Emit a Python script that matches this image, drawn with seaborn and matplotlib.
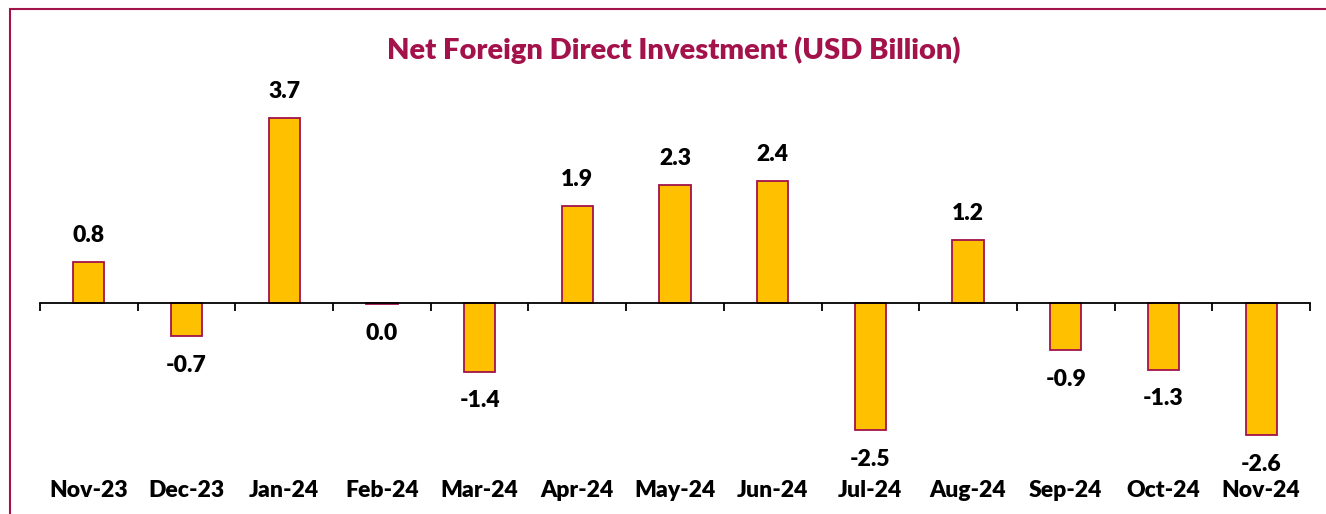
import matplotlib
matplotlib.use("Agg")
import matplotlib.pyplot as plt
import matplotlib.transforms as mtransforms
from matplotlib.patches import Rectangle
import seaborn as sns
import pandas as pd

# Monthly net FDI, USD billion
months = ["Nov-23", "Dec-23", "Jan-24", "Feb-24", "Mar-24", "Apr-24", "May-24",
          "Jun-24", "Jul-24", "Aug-24", "Sep-24", "Oct-24", "Nov-24"]
net_fdi = [0.81, -0.66, 3.66, -0.02, -1.36, 1.92, 2.34, 2.41, -2.51, 1.24, -0.93, -1.32, -2.61]

MAROON = "#A3124B"
GOLD = "#FFC000"

sns.set_style("white")
plt.rcParams["font.family"] = ["Lato", "DejaVu Sans"]
WEIGHT = "heavy"

fig = plt.figure(figsize=(13.26, 5.14), dpi=100)
ax = fig.add_axes([40 / 1326, 0.1152, 1270 / 1326, 0.7383])

df = pd.DataFrame({"month": months, "value": net_fdi})
sns.barplot(data=df, x="month", y="value", color=GOLD, saturation=1,
            width=0.32, edgecolor=MAROON, linewidth=1.3, ax=ax)

ax.set_ylim(-3.0, 4.5)
ax.set_xlim(-0.5, len(months) - 0.5)

# axis line at zero with ticks between categories
for side in ("top", "right", "left"):
    ax.spines[side].set_visible(False)
ax.spines["bottom"].set_position(("data", 0))
ax.spines["bottom"].set_color("black")
ax.spines["bottom"].set_linewidth(1.3)
ax.set_yticks([])
ax.set_xticks([i - 0.5 for i in range(len(months) + 1)])
ax.set_xticklabels([])
ax.tick_params(axis="x", direction="out", length=6, width=1.3, color="black", bottom=True)
ax.set_xlabel("")
ax.set_ylabel("")

# month labels placed along the bottom of the plot area
trans = mtransforms.blended_transform_factory(ax.transData, ax.transAxes)
for i, m in enumerate(months):
    ax.text(i, -0.095, m, transform=trans, ha="center", va="center",
            fontsize=16.5, fontweight=WEIGHT, color="black")

# value labels
for i, v in enumerate(net_fdi):
    txt = f"{v:.1f}"
    if txt == "-0.0":
        txt = "0.0"
    off = 19 if v >= 0 else -21
    ax.annotate(txt, xy=(i, v), xytext=(0, off), textcoords="offset points",
                ha="center", va="center", fontsize=16.5, fontweight=WEIGHT, color="black")

fig.text(674 / 1326, 1 - 50 / 514, "Net Foreign Direct Investment (USD Billion)",
         ha="center", va="center", fontsize=21, fontweight=WEIGHT, color=MAROON)

# chart frame
fig.patches.append(Rectangle((10 / 1326, -0.05), 1.2, 1 - 9 / 514 + 0.05,
                             transform=fig.transFigure, fill=False,
                             edgecolor=MAROON, linewidth=1.5))

fig.savefig("out.png", dpi=100)
